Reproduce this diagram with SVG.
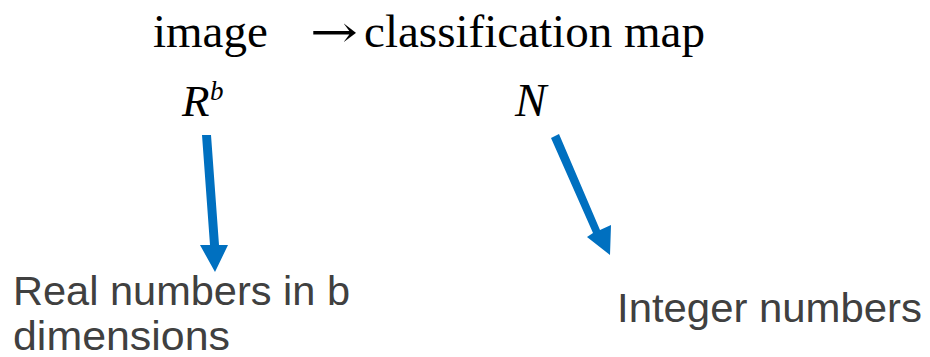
<svg xmlns="http://www.w3.org/2000/svg" width="930" height="357" viewBox="0 0 930 357">
<style>
.math{font-family:"Liberation Serif","Times New Roman",serif;fill:#000;font-size:47px}
.it{font-style:italic}
.lbl{font-family:"Liberation Sans",Arial,sans-serif;fill:#404040;font-size:40px}
.arr{fill:#0070C0}
</style>
<rect width="930" height="357" fill="#fff"/>
<g id="title">
<text class="math" x="153" y="47">image</text>
<text x="310" y="47" textLength="48" lengthAdjust="spacingAndGlyphs" style="font-family:'DejaVu Serif',serif;font-size:44px;fill:#000">→</text>
<text class="math" x="364" y="47" textLength="341" lengthAdjust="spacingAndGlyphs">classification map</text>
</g>
<g id="node-Rb">
<text class="math it" x="182" y="116" style="font-size:45px">R</text>
<text class="math it" x="210" y="100" style="font-size:27px">b</text>
</g>
<g id="node-N">
<text class="math it" x="515" y="116">N</text>
</g>
<g id="node-real">
<text class="lbl" x="13" y="305" textLength="337" lengthAdjust="spacingAndGlyphs">Real numbers in b</text>
<text class="lbl" x="13" y="350" textLength="217" lengthAdjust="spacingAndGlyphs">dimensions</text>
</g>
<g id="node-int">
<text class="lbl" x="617" y="322" textLength="305" lengthAdjust="spacingAndGlyphs">Integer numbers</text>
</g>
<g id="connectors">
<polygon class="arr" points="202,135 211,135 219,245 228,245 215,272 200,245 210,245"/>
<polygon class="arr" points="551,138 559,134 600,230 611,225 610,255 587,237 593,233"/>
</g>
</svg>
